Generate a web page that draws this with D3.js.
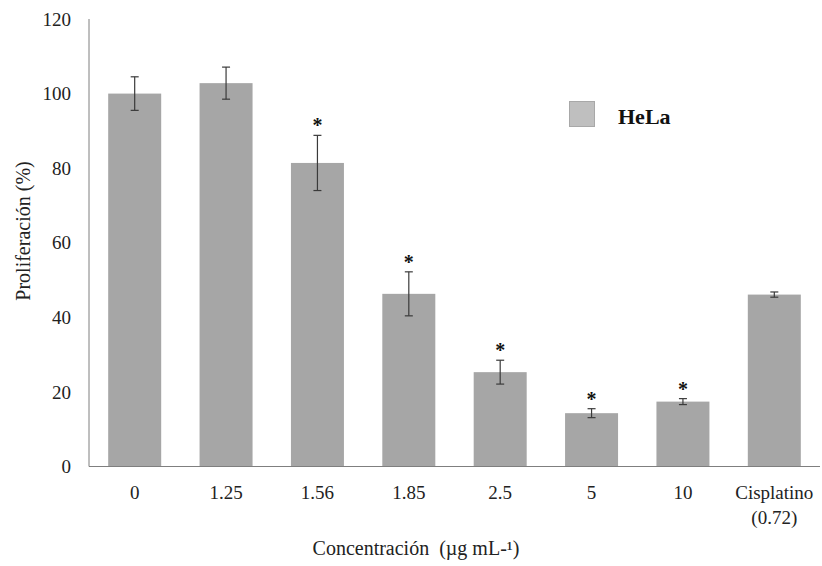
<!DOCTYPE html>
<html>
<head>
<meta charset="utf-8">
<script src="https://cdn.jsdelivr.net/npm/d3@7"></script>
<style>
  html, body { margin: 0; padding: 0; background: #fff; }
  svg { display: block; }
  svg text { font-family: "Liberation Serif", "Times New Roman", "DejaVu Serif", serif !important; }
</style>
</head>
<body>
<svg id="chart" width="822" height="566"></svg>
<script>
// Proliferation of HeLa cells by concentration
const categories = ["0", "1.25", "1.56", "1.85", "2.5", "5", "10", "Cisplatino"];
const categoryNotes = ["", "", "", "", "", "", "", "(0.72)"];
const values = [100, 102.8, 81.4, 46.3, 25.3, 14.3, 17.4, 46.1];
const errors = [4.5, 4.3, 7.4, 5.9, 3.2, 1.2, 0.8, 0.7];
const significant = [false, false, true, true, true, true, true, false];
const yTicks = [0, 20, 40, 60, 80, 100, 120];

const svg = d3.select("#chart");
const x0 = 89, x1 = 820, yTop = 19, yBottom = 466.5;

const x = d3.scaleBand().domain(categories).range([x0, x1])
  .paddingInner(0.42).paddingOuter(0.21);
const y = d3.scaleLinear().domain([0, 120]).range([yBottom, yTop]);

const rows = categories.map((c, i) => ({
  cat: c, note: categoryNotes[i], v: values[i], e: errors[i], sig: significant[i]
}));

// bars
svg.append("g").selectAll("rect").data(rows).join("rect")
  .attr("x", d => x(d.cat))
  .attr("y", d => y(d.v))
  .attr("width", x.bandwidth())
  .attr("height", d => y(0) - y(d.v))
  .attr("fill", "#a6a6a6");

// error bars
const eb = svg.append("g").attr("stroke", "#3a3a3a").attr("stroke-width", 1.2);
rows.forEach(d => {
  const cx = x(d.cat) + x.bandwidth() / 2;
  const t = y(d.v + d.e), b = y(d.v - d.e);
  eb.append("line").attr("x1", cx).attr("x2", cx).attr("y1", t).attr("y2", b);
  eb.append("line").attr("x1", cx - 4).attr("x2", cx + 4).attr("y1", t).attr("y2", t);
  eb.append("line").attr("x1", cx - 4).attr("x2", cx + 4).attr("y1", b).attr("y2", b);
});

// significance marks
svg.append("g").selectAll("text").data(rows.filter(d => d.sig)).join("text")
  .attr("x", d => x(d.cat) + x.bandwidth() / 2)
  .attr("y", d => y(d.v + d.e) - 3)
  .attr("text-anchor", "middle")
  .attr("font-size", 20)
  .attr("font-weight", "bold")
  .attr("fill", "#111")
  .text("*");

// y axis
const yAxis = d3.axisLeft(y).tickValues(yTicks).tickSize(0).tickPadding(18);
const gy = svg.append("g").attr("transform", `translate(${x0},0)`).call(yAxis);
gy.select(".domain").attr("stroke", "#7f7f7f").attr("d", `M0,${yTop}V${yBottom}`);
gy.selectAll("text").attr("font-size", 19).attr("fill", "#222");

// x axis
const xAxis = d3.axisBottom(x).tickSize(0).tickPadding(0).tickFormat(() => "");
const gx = svg.append("g").attr("transform", `translate(0,${yBottom})`).call(xAxis);
gx.select(".domain").attr("stroke", "#7f7f7f").attr("d", `M${x0},0H${x1}`);
gx.selectAll(".tick").each(function(c, i) {
  const t = d3.select(this).append("text")
    .attr("text-anchor", "middle")
    .attr("font-size", 19)
    .attr("fill", "#222");
  t.append("tspan").attr("x", 0).attr("y", 32.5).text(c);
  if (categoryNotes[i]) t.append("tspan").attr("x", 0).attr("y", 57).text(categoryNotes[i]);
});

// axis titles
svg.append("text")
  .attr("transform", "translate(30,231) rotate(-90)")
  .attr("text-anchor", "middle")
  .attr("font-size", 20)
  .attr("fill", "#222")
  .text("Proliferación (%)");

svg.append("text")
  .attr("x", 416).attr("y", 555)
  .attr("text-anchor", "middle")
  .attr("font-size", 20)
  .attr("fill", "#222")
  .attr("xml:space", "preserve")
  .style("white-space", "pre")
  .text("Concentración  (µg mL-¹)");

// legend
const lg = svg.append("g");
lg.append("rect").attr("x", 569.5).attr("y", 101.5).attr("width", 25).attr("height", 25)
  .attr("fill", "#bfbfbf").attr("stroke", "#a8a8a8").attr("stroke-width", 1);
lg.append("text").attr("x", 618).attr("y", 124)
  .attr("font-size", 22).attr("font-weight", "bold").attr("fill", "#111")
  .text("HeLa");
</script>
</body>
</html>
